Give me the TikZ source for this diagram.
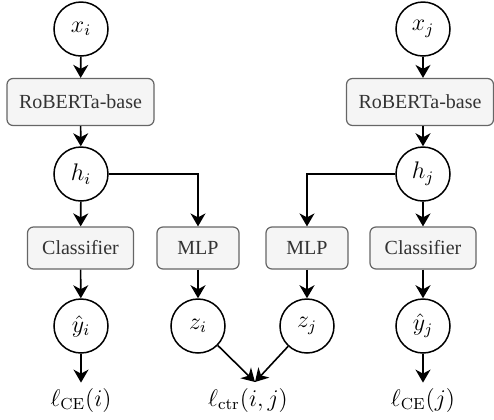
\documentclass[tikz,border=0pt]{standalone}
\usepackage[no-math]{fontspec}
\setmainfont{Liberation Serif}
\usetikzlibrary{arrows.meta}
\definecolor{boxfill}{HTML}{F5F5F5}
\definecolor{boxdraw}{HTML}{666666}
\definecolor{boxtext}{HTML}{333333}
\tikzset{
  var/.style={circle, draw, line width=0.75pt, minimum size=27pt, inner sep=0pt, fill=white, font=\fontsize{12}{14}\selectfont},
  blk/.style={draw=boxdraw, fill=boxfill, rounded corners=3pt, line width=0.6pt, text=boxtext, inner sep=0pt, font=\fontsize{10}{12}\selectfont},
  wide/.style={minimum width=73.5pt, minimum height=23.5pt},
  cls/.style={minimum width=53pt, minimum height=21pt},
  mlp/.style={minimum width=41pt, minimum height=21pt},
  arr/.style={-{Stealth[length=6.5pt,width=7.5pt,inset=2pt]}, line width=0.8pt},
  lbl/.style={inner sep=2.5pt, font=\fontsize{12}{14}\selectfont}
}
\begin{document}
\begin{tikzpicture}[x=0.5pt,y=-0.5pt]
\useasboundingbox (0,0) rectangle (494,419);
% left column
\node[var] (xi) at (81,29) {$x_i$};
\node[blk,wide] (robi) at (80.5,102) {RoBERTa-base};
\node[var] (hi) at (81,174) {$h_i$};
\node[blk,cls] (clsi) at (80.5,248) {Classifier};
\node[var] (yi) at (81,326) {$\hat{y}_i$};
\node[lbl] (lcei) at (81,400) {$\ell_{\mathrm{CE}}(i)$};
% inner columns
\node[blk,mlp] (mlpi) at (198,248) {MLP};
\node[var] (zi) at (198,326) {$z_i$};
\node[blk,mlp] (mlpj) at (307,248) {MLP};
\node[var] (zj) at (307,326) {$z_j$};
\node[lbl] (lctr) at (248,400) {$\ell_{\mathrm{ctr}}(i,j)$};
\coordinate (ctrtip) at (255,382);
% right column
\node[var] (xj) at (423,29) {$x_j$};
\node[blk,wide] (robj) at (420,102) {RoBERTa-base};
\node[var] (hj) at (423,174) {$h_j$};
\node[blk,cls] (clsj) at (423,248) {Classifier};
\node[var] (yj) at (423,326) {$\hat{y}_j$};
\node[lbl] (lcej) at (423,400) {$\ell_{\mathrm{CE}}(j)$};
% connectors
\draw[arr] (xi) -- (robi);
\draw[arr] (robi) -- (hi);
\draw[arr] (hi) -- (clsi);
\draw[arr] (clsi) -- (yi);
\draw[arr] (yi) -- (lcei);
\draw[arr] (hi.east) -| (mlpi.north);
\draw[arr] (mlpi) -- (zi);
\draw[arr] (zi) -- (ctrtip);
\draw[arr] (xj.south) -- (xj.south |- robj.north);
\draw[arr] (hj.north |- robj.south) -- (hj.north);
\draw[arr] (hj) -- (clsj);
\draw[arr] (clsj) -- (yj);
\draw[arr] (yj) -- (lcej);
\draw[arr] (hj.west) -| (mlpj.north);
\draw[arr] (mlpj) -- (zj);
\draw[arr] (zj) -- (ctrtip);
\end{tikzpicture}
\end{document}
